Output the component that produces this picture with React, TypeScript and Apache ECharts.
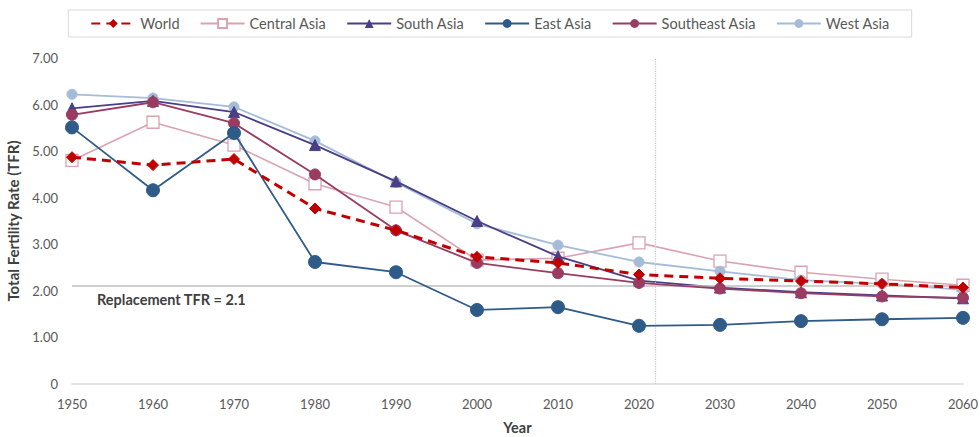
import React, { useEffect, useRef } from "react";
import * as echarts from "echarts";

const years = [1950, 1960, 1970, 1980, 1990, 2000, 2010, 2020, 2030, 2040, 2050, 2060];
const world = [4.87, 4.7, 4.83, 3.77, 3.3, 2.73, 2.6, 2.35, 2.27, 2.21, 2.15, 2.07];
const centralAsia = [4.8, 5.62, 5.13, 4.3, 3.8, 2.66, 2.7, 3.03, 2.64, 2.4, 2.25, 2.12];
const southAsia = [5.92, 6.08, 5.84, 5.13, 4.35, 3.5, 2.74, 2.22, 2.07, 1.97, 1.9, 1.84];
const eastAsia = [5.51, 4.16, 5.39, 2.62, 2.4, 1.59, 1.65, 1.25, 1.27, 1.35, 1.39, 1.42];
const southeastAsia = [5.78, 6.05, 5.6, 4.5, 3.3, 2.6, 2.38, 2.17, 2.05, 1.95, 1.88, 1.85];
const westAsia = [6.22, 6.14, 5.95, 5.22, 4.33, 3.44, 2.98, 2.62, 2.42, 2.23, 2.15, 2.02];
const replacementTFR = 2.1;
const dividerYear = 2022;

const FONT = "Lato, 'Open Sans', sans-serif";

export default function App() {
  const ref = useRef<HTMLDivElement>(null);
  useEffect(() => {
    if (!ref.current) return;
    const chart = echarts.init(ref.current, undefined, { renderer: "svg" });
    const pair = (arr: number[]) => years.map((y, i) => [y, arr[i]]);
    const mk = (
      name: string,
      data: number[],
      color: string,
      symbol: string,
      size: number,
      extra: any = {}
    ) => ({
      name,
      type: "line",
      data: pair(data),
      symbol,
      symbolSize: size,
      color,
      lineStyle: { color, width: 1.8 },
      itemStyle: { color, borderColor: color },
      ...extra,
    });
    chart.setOption({
      animation: false,
      textStyle: { fontFamily: FONT },
      legend: {
        top: 10,
        left: "center",
        padding: [6, 22],
        borderColor: "#d9d9d9",
        borderWidth: 1,
        itemWidth: 44,
        itemHeight: 11,
        itemGap: 20,
        textStyle: { color: "#595959", fontSize: 14.5, fontFamily: FONT },
        data: ["World", "Central Asia", "South Asia", "East Asia", "Southeast Asia", "West Asia"],
      },
      grid: { left: 72, right: 17, top: 58, bottom: 53, outerBoundsMode: "none" },
      xAxis: {
        type: "value",
        min: 1950,
        max: 2060,
        interval: 10,
        name: "Year",
        nameLocation: "middle",
        nameGap: 36,
        nameTextStyle: { fontWeight: "bold", fontSize: 14.5, color: "#404040", fontFamily: FONT },
        axisLine: { show: true, lineStyle: { color: "#d9d9d9", width: 1.5 } },
        axisTick: { show: false },
        splitLine: { show: false },
        axisLabel: { color: "#595959", fontSize: 13, margin: 13, formatter: (v: number) => String(v) },
      },
      yAxis: {
        type: "value",
        min: 0,
        max: 7,
        interval: 1,
        name: "Total Fertility Rate (TFR)",
        nameLocation: "middle",
        nameGap: 52,
        nameTextStyle: { fontWeight: "bold", fontSize: 15, color: "#404040", fontFamily: FONT },
        axisLine: { show: false },
        axisTick: { show: false },
        splitLine: { show: false },
        axisLabel: {
          color: "#595959",
          fontSize: 13,
          margin: 14,
          formatter: (v: number) => (v === 0 ? "0" : v.toFixed(2)),
        },
      },
      graphic: [
        {
          type: "text",
          left: 97,
          top: 292,
          style: {
            text: "Replacement TFR = 2.1",
            font: `bold 14.5px ${FONT}`,
            fill: "#404040",
          },
        },
      ],
      series: [
        mk("Central Asia", centralAsia, "#d9a3b3", "rect", 12, {
          itemStyle: { color: "#ffffff", borderColor: "#d9a3b3", borderWidth: 1.3 },
          lineStyle: { color: "#d9a3b3", width: 1.6 },
          z: 2,
          markLine: {
            silent: true,
            symbol: "none",
            label: { show: false },
            data: [
              { yAxis: replacementTFR, lineStyle: { color: "#bfbfbf", width: 1.5, type: "solid" } },
              { xAxis: dividerYear, lineStyle: { color: "#c8c8c8", width: 1.2, type: "dotted" } },
            ],
          },
        }),
        mk("West Asia", westAsia, "#a5bcd9", "circle", 10, { z: 3 }),
        mk("South Asia", southAsia, "#4a3f86", "triangle", 11, { z: 4 }),
        mk("Southeast Asia", southeastAsia, "#9a3c62", "circle", 11, { z: 5 }),
        mk("East Asia", eastAsia, "#2f5b88", "circle", 13, { z: 6 }),
        mk("World", world, "#c00000", "diamond", 11, {
          lineStyle: { color: "#c00000", width: 3, type: [9, 6] },
          z: 7,
        }),
      ],
    });
    return () => chart.dispose();
  }, []);
  return (
    <div
      ref={ref}
      style={{ position: "absolute", left: 0, top: 0, width: 980, height: 437 }}
    />
  );
}
